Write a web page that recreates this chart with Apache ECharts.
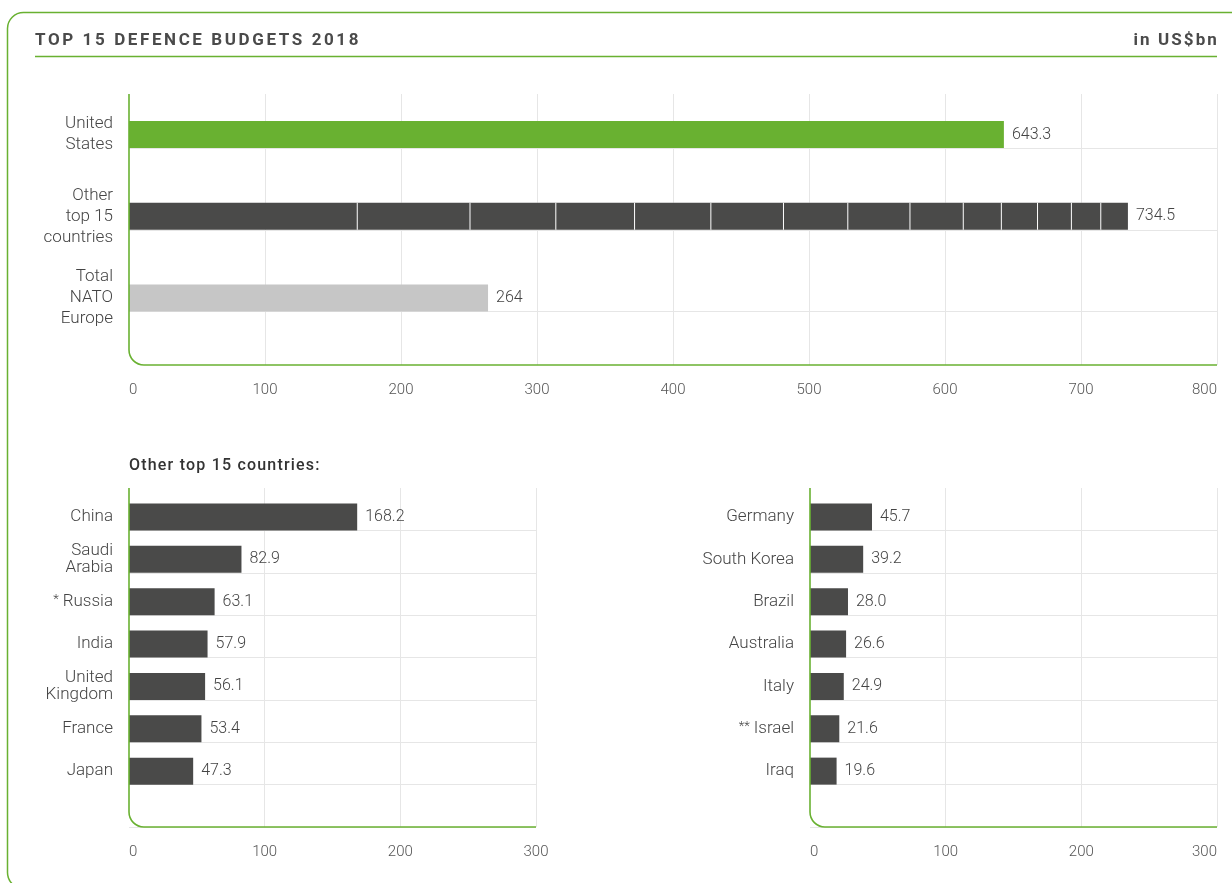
<!DOCTYPE html>
<html>
<head>
<meta charset="utf-8">
<script src="https://cdn.jsdelivr.net/npm/echarts@6/dist/echarts.min.js"></script>
<style>
  html, body { margin: 0; padding: 0; background: #fff; }
  #wrap { position: relative; width: 1232px; height: 883px; overflow: hidden; }
  #chart { position: absolute; left: 0; top: 0; width: 1232px; height: 883px; }
  .txt { position: absolute; font-family: Roboto, sans-serif; color: #4a4a4a; white-space: nowrap; }
  #title { left: 35px; top: 30px; font-size: 17px; font-weight: 700; letter-spacing: 2.6px; line-height: 18px; }
  #unit { right: 13px; top: 30px; font-size: 17px; font-weight: 700; letter-spacing: 2.1px; line-height: 18px; }
  #subtitle { left: 129px; top: 456px; font-size: 16px; font-weight: 500; letter-spacing: 1.2px; line-height: 18px; color: #333; }
</style>
</head>
<body>
<div id="wrap">
  <div id="chart"></div>
  <div id="title" class="txt">TOP 15 DEFENCE BUDGETS 2018</div>
  <div id="unit" class="txt">in US$bn</div>
  <div id="subtitle" class="txt">Other top 15 countries:</div>
</div>
<script>
// ---------------- DATA ----------------
const topCategories = ['United\nStates', 'Other\ntop 15\ncountries', 'Total\nNATO\nEurope'];
const unitedStatesBudget = 643.3;
const natoEuropeBudget = 264;

const leftCountries = ['China', 'Saudi\nArabia', '* Russia', 'India', 'United\nKingdom', 'France', 'Japan'];
const leftValues = [168.2, 82.9, 63.1, 57.9, 56.1, 53.4, 47.3];

const rightCountries = ['Germany', 'South Korea', 'Brazil', 'Australia', 'Italy', '** Israel', 'Iraq'];
const rightValues = [45.7, 39.2, 28.0, 26.6, 24.9, 21.6, 19.6];

const topAxisMax = 800;
const bottomAxisMax = 300;
const tickInterval = 100;

// ---------------- STYLE / LAYOUT ----------------
const GREEN = '#69b131';
const DARK = '#4a4a49';
const LIGHT = '#c6c6c6';
const GRID = '#e6e6e6';
const TEXT = '#444';
const FONT = 'Roboto, sans-serif';
const BAR = 27;

const TOP = { left: 129, width: 1088, plotTop: 94, plotBottom: 365, band: 81.75 };
TOP.barTop = 148 - TOP.band;
const BOT = { top: 488, height: 339, bands: 8 };
BOT.band = BOT.height / BOT.bands;
const BL = { left: 129, width: 407 };
const BR = { left: 810, width: 407 };

const otherTotal = leftValues.concat(rightValues).reduce((a, b) => a + b, 0);
const allOther = leftCountries.concat(rightCountries);
const allOtherValues = leftValues.concat(rightValues);

function catAxis(gridIndex, data, band, lineHeight) {
  const shift = (band - BAR) / 2;   // labels centred on the bar, not on the band
  return {
    type: 'category', gridIndex, data, inverse: true,
    axisLine: { show: false }, axisTick: { show: false },
    axisLabel: {
      margin: 16, color: TEXT, fontFamily: FONT, fontSize: 17, fontWeight: 300,
      lineHeight, align: 'right', interval: 0,
      formatter: (v) => {
        if (!v) return '';
        const m = v.match(/^(\*+)\s*([\s\S]*)$/);
        const body = m ? '{a|' + m[1] + '}' + m[2] : v;
        return '{s| }\n' + body;
      },
      rich: {
        s: { lineHeight: shift * 2, fontSize: 2 },
        a: { fontSize: 13, color: TEXT, fontFamily: FONT, fontWeight: 300, verticalAlign: 'top', padding: [0, 4, 0, 0] }
      }
    },
    splitLine: { show: true, showMinLine: false, lineStyle: { color: GRID, width: 1 } }
  };
}
function valAxis(gridIndex, max, showLabels, alignMax) {
  return {
    type: 'value', gridIndex, min: 0, max, interval: tickInterval,
    axisLine: { show: false }, axisTick: { show: false },
    axisLabel: {
      show: showLabels, margin: 18, color: '#555', fontFamily: FONT, fontSize: 15, fontWeight: 300,
      alignMinLabel: 'left', alignMaxLabel: alignMax
    },
    splitLine: { show: showLabels, showMinLine: false, lineStyle: { color: GRID, width: 1 } }
  };
}
const valueLabel = (fmt) => ({
  show: true, position: 'right', distance: 8, color: TEXT,
  fontFamily: FONT, fontSize: 16, fontWeight: 300, formatter: fmt
});

function spacer(xi, yi, band) {
  return { type: 'bar', xAxisIndex: xi, yAxisIndex: yi, barWidth: band - BAR, barGap: '0%', data: [], silent: true };
}

const series = [];
// top chart
series.push(spacer(1, 1, TOP.band));
series.push({
  type: 'bar', name: 'main', stack: 'top', xAxisIndex: 1, yAxisIndex: 1, barWidth: BAR, barGap: '0%',
  data: [
    { value: unitedStatesBudget, itemStyle: { color: GREEN } },
    '-',
    { value: natoEuropeBudget, itemStyle: { color: LIGHT } }
  ],
  label: valueLabel(p => String(p.value))
});
allOther.forEach((name, i) => {
  const d = topCategories.map((c, k) => k === 1 ? allOtherValues[i] : '-');
  series.push({
    type: 'bar', name, stack: 'top', xAxisIndex: 1, yAxisIndex: 1, barWidth: BAR, barGap: '0%',
    data: d,
    itemStyle: i === 0 ? { color: DARK } : { color: DARK, shadowColor: '#ffffff', shadowOffsetX: -1, shadowBlur: 0 },
    label: i === allOther.length - 1 ? valueLabel(() => otherTotal.toFixed(1)) : { show: false }
  });
});
// bottom left
series.push(spacer(2, 2, BOT.band));
series.push({
  type: 'bar', xAxisIndex: 2, yAxisIndex: 2, barWidth: BAR, barGap: '0%',
  data: leftValues, itemStyle: { color: DARK },
  label: valueLabel(p => Number(p.value).toFixed(1))
});
// bottom right
series.push(spacer(3, 3, BOT.band));
series.push({
  type: 'bar', xAxisIndex: 3, yAxisIndex: 3, barWidth: BAR, barGap: '0%',
  data: rightValues, itemStyle: { color: DARK },
  label: valueLabel(p => Number(p.value).toFixed(1))
});

function axisFrame(left, top, right, bottom) {
  const r = 15;
  const st = { stroke: GREEN, lineWidth: 1.6, fill: 'none' };
  return [
    { type: 'line', z: 100, silent: true, shape: { x1: left, y1: top, x2: left, y2: bottom - r }, style: st },
    { type: 'arc', z: 100, silent: true,
      shape: { cx: left + r, cy: bottom - r, r, startAngle: Math.PI / 2, endAngle: Math.PI, clockwise: true },
      style: st },
    { type: 'line', z: 100, silent: true, shape: { x1: left + r, y1: bottom, x2: right, y2: bottom }, style: st }
  ];
}

const option = {
  animation: false,
  backgroundColor: '#fff',
  textStyle: { fontFamily: FONT },
  grid: [
    { left: TOP.left, width: TOP.width, top: TOP.plotTop, height: TOP.plotBottom - TOP.plotTop },
    { left: TOP.left, width: TOP.width, top: TOP.barTop, height: TOP.band * 3 },
    { left: BL.left, width: BL.width, top: BOT.top, height: BOT.height },
    { left: BR.left, width: BR.width, top: BOT.top, height: BOT.height }
  ],
  xAxis: [
    valAxis(0, topAxisMax, true, 'right'),
    valAxis(1, topAxisMax, false, 'right'),
    valAxis(2, bottomAxisMax, true, 'center'),
    valAxis(3, bottomAxisMax, true, 'right')
  ],
  yAxis: [
    { type: 'value', gridIndex: 0, show: false, splitLine: { show: false } },
    catAxis(1, topCategories, TOP.band, 21),
    catAxis(2, leftCountries.concat(['']), BOT.band, 17),
    catAxis(3, rightCountries.concat(['']), BOT.band, 17)
  ],
  series,
  graphic: [
    { type: 'rect', z: 100, silent: true, shape: { x: 7.5, y: 12.5, width: 1250, height: 876, r: 16 },
      style: { fill: 'none', stroke: GREEN, lineWidth: 1.5 } },
    { type: 'line', z: 100, silent: true, shape: { x1: 35, y1: 56.5, x2: 1217, y2: 56.5 },
      style: { stroke: GREEN, lineWidth: 1.5 } }
  ].concat(
    axisFrame(TOP.left, TOP.plotTop, TOP.left + TOP.width, TOP.plotBottom),
    axisFrame(BL.left, BOT.top, BL.left + BL.width, BOT.top + BOT.height),
    axisFrame(BR.left, BOT.top, BR.left + BR.width, BOT.top + BOT.height)
  )
};

const chart = echarts.init(document.getElementById('chart'), null, { renderer: 'canvas' });
chart.setOption(option);
</script>
</body>
</html>
